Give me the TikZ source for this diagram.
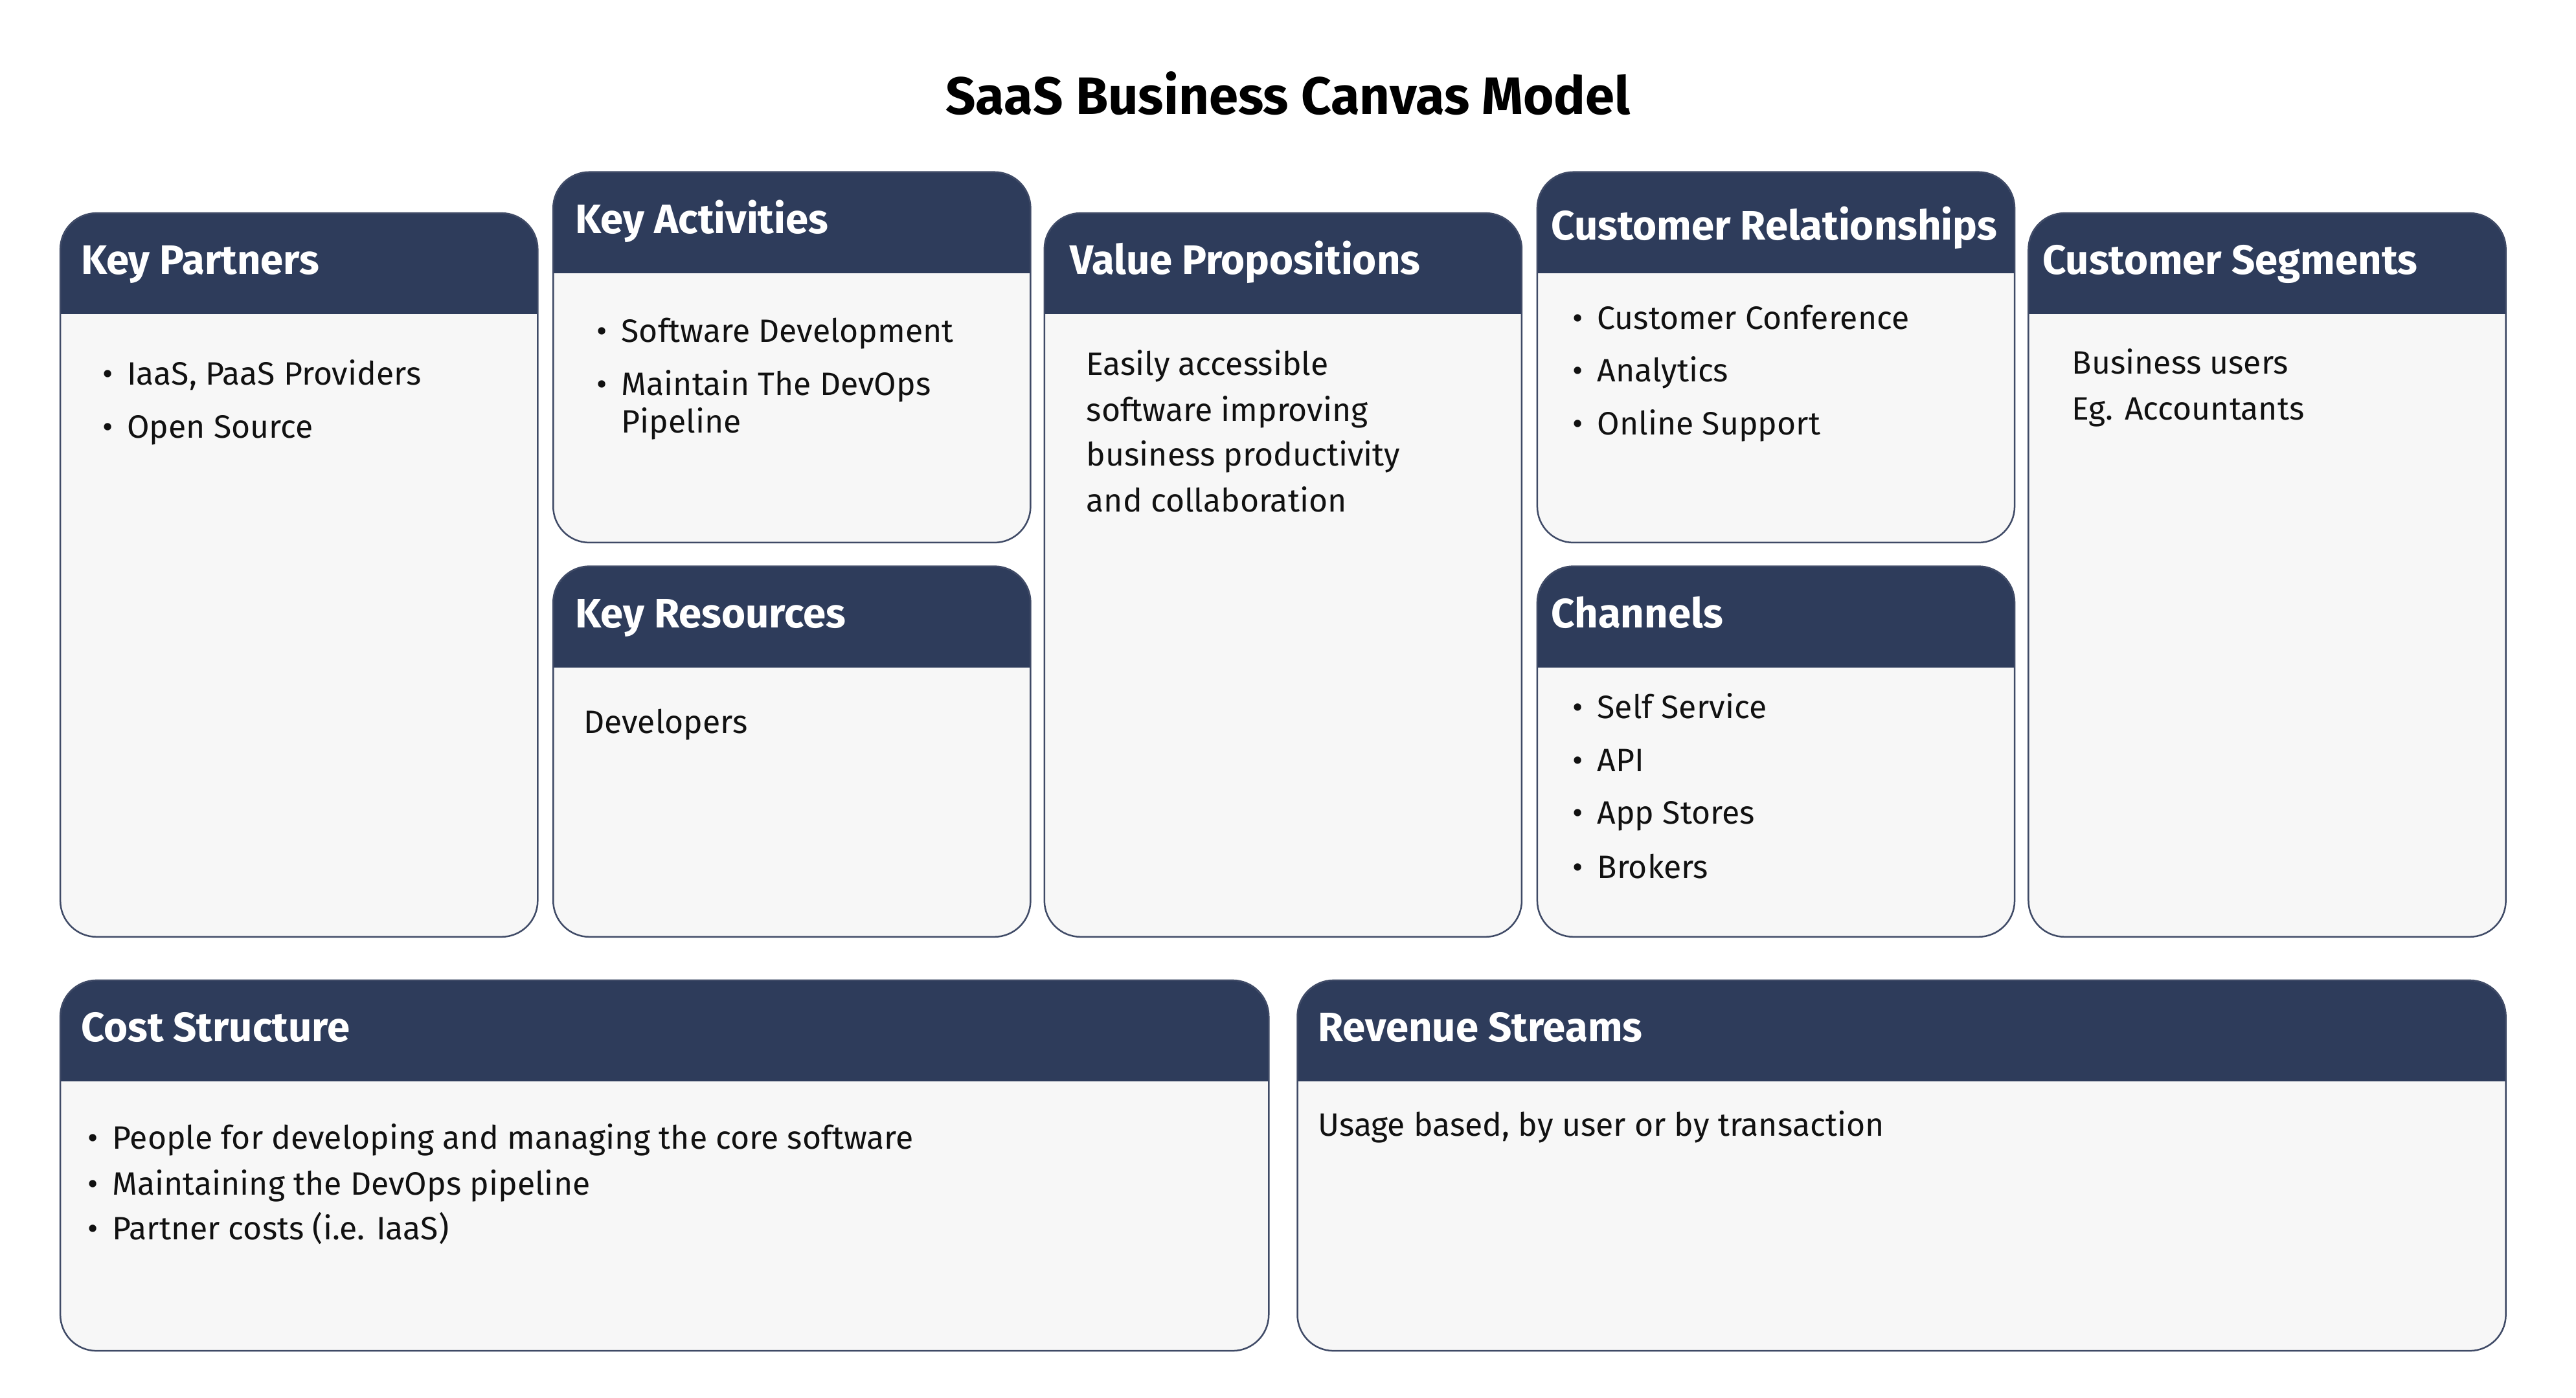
\documentclass[tikz,border=0pt]{standalone}
\usepackage{fontspec}
\setmainfont{Fira Sans}
\usetikzlibrary{fit}
\definecolor{hdr}{HTML}{2E3C5B}
\definecolor{bodyfill}{HTML}{F7F7F7}
\definecolor{edge}{HTML}{3F4A66}
\definecolor{ink}{HTML}{111111}
\tikzset{
  boxbody/.style={rectangle, inner sep=0pt, fill=bodyfill, rounded corners=0.55cm},
  boxedge/.style={draw=edge, line width=0.7pt, rounded corners=0.55cm},
  hdrtext/.style={anchor=base west, inner sep=0pt, text=white, font=\fontsize{17.8pt}{21pt}\selectfont\bfseries},
  bodytext/.style={anchor=base west, inner sep=0pt, text=ink, font=\fontsize{14pt}{17pt}\selectfont},
  titletext/.style={inner sep=0pt, text=black, font=\fontsize{22.8pt}{27pt}\selectfont\bfseries},
}
\newcommand\canvasbox[8]{% name, x1, y1, x2, y2, title x, title baseline offset, title
  \node[boxbody, fit={(#2,#3) (#4,#5)}] (#1) {};
  \begin{scope}
    \clip (#2-2,#3-2) rectangle (#4+2,#3+61);
    \fill[hdr, rounded corners=0.55cm] (#2,#3) rectangle (#4,#5);
  \end{scope}
  \draw[boxedge] (#1.north west) rectangle (#1.south east);
  \node[hdrtext] (#1-t) at (#6,#3+#7) {#8};
}
\newcommand\bitem[4]{% name, x, y, text
  \node[bodytext] (#1) at (#2,#3) {\makebox[10.67pt][l]{\textbullet}#4};
}
\newcommand\pitem[4]{% name, x, y, text
  \node[bodytext] (#1) at (#2,#3) {#4};
}
\begin{document}
\begin{tikzpicture}[x=0.025cm, y=-0.025cm]
\useasboundingbox[fill=white] (0,0) rectangle (1568,851);
\node[titletext] (title) at (784,57) {SaaS Business Canvas Model};

\canvasbox{kp}{37}{130}{327}{570}{49}{37}{Key Partners}
\canvasbox{ka}{337}{105}{627}{330}{350}{37}{Key Activities}
\canvasbox{kr}{337}{345}{627}{570}{350}{37}{Key Resources}
\canvasbox{vp}{636}{130}{926}{570}{651}{37}{Value Propositions}
\canvasbox{cr}{936}{105}{1226}{330}{944}{41}{Customer Relationships}
\canvasbox{ch}{936}{345}{1226}{570}{944}{37}{Channels}
\canvasbox{cs}{1235}{130}{1525}{570}{1243}{37}{Customer Segments}
\canvasbox{cost}{37}{597}{772}{822}{49}{37}{Cost Structure}
\canvasbox{rev}{790}{597}{1525}{822}{802}{37}{Revenue Streams}

\bitem{kp1}{62}{234.5}{IaaS, PaaS Providers}
\bitem{kp2}{62}{266.5}{Open Source}

\bitem{ka1}{363}{208.5}{Software Development}
\bitem{ka2}{363}{240.5}{Maintain The DevOps}
\pitem{ka3}{378}{263.5}{Pipeline}

\pitem{kr1}{355}{446.5}{Developers}

\pitem{vp1}{661}{228.5}{Easily accessible}
\pitem{vp2}{661}{256.5}{software improving}
\pitem{vp3}{661}{283.5}{business productivity}
\pitem{vp4}{661}{311.5}{and collaboration}

\bitem{cr1}{957}{200.5}{Customer Conference}
\bitem{cr2}{957}{232.5}{Analytics}
\bitem{cr3}{957}{264.5}{Online Support}

\bitem{ch1}{957}{437.5}{Self Service}
\bitem{ch2}{957}{469.5}{API}
\bitem{ch3}{957}{501.5}{App Stores}
\bitem{ch4}{957}{534.5}{Brokers}

\pitem{cs1}{1261}{227.5}{Business users}
\pitem{cs2}{1261}{255.5}{Eg. Accountants}

\bitem{co1}{53}{699.5}{People for developing and managing the core software}
\bitem{co2}{53}{727.5}{Maintaining the DevOps pipeline}
\bitem{co3}{53}{754.5}{Partner costs (i.e. IaaS)}

\pitem{rv1}{802}{691.5}{Usage based, by user or by transaction}
\end{tikzpicture}
\end{document}
